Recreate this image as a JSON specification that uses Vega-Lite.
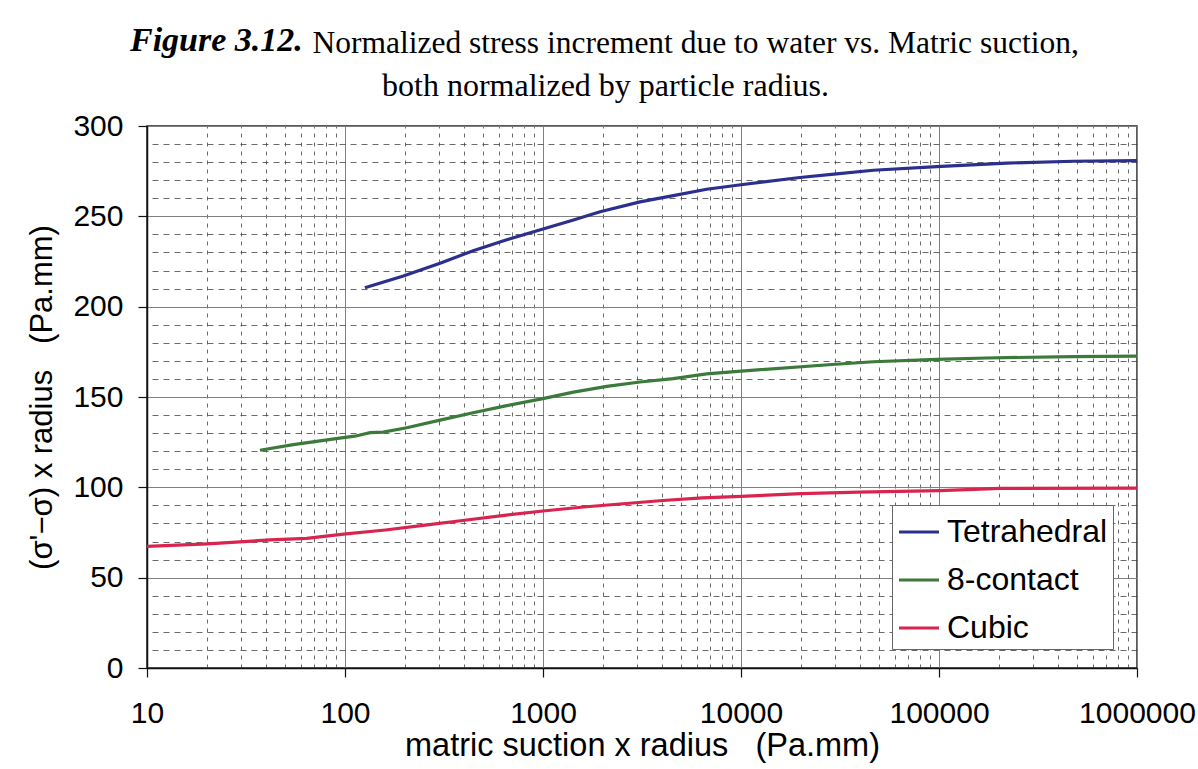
{
  "$schema": "https://vega.github.io/schema/vega-lite/v6.json",
  "width": 990,
  "height": 542,
  "autosize": {"type": "none"},
  "padding": {"left": 147, "top": 126, "right": 61, "bottom": 101},
  "background": "white",
  "config": {
    "view": {"stroke": "#222", "strokeWidth": 1.5},
    "axis": {"labelFont": "Liberation Sans", "titleFont": "Liberation Sans", "labelColor": "black", "titleColor": "black", "titleFontWeight": "normal"}
  },
  "title": {
    "text": "Figure 3.12.",
    "font": "Liberation Serif",
    "fontSize": 34,
    "fontStyle": "italic",
    "fontWeight": "bold",
    "color": "black",
    "anchor": "start",
    "frame": "group",
    "dx": -17,
    "dy": 31,
    "offset": 0
  },
  "data": {
    "values": [
      {"series": "Tetrahedral", "s": 126, "v": 210.5},
      {"series": "Tetrahedral", "s": 197, "v": 217},
      {"series": "Tetrahedral", "s": 302, "v": 224},
      {"series": "Tetrahedral", "s": 444, "v": 231},
      {"series": "Tetrahedral", "s": 656, "v": 237},
      {"series": "Tetrahedral", "s": 1000, "v": 243},
      {"series": "Tetrahedral", "s": 1425, "v": 248},
      {"series": "Tetrahedral", "s": 1943, "v": 252.5},
      {"series": "Tetrahedral", "s": 3090, "v": 258},
      {"series": "Tetrahedral", "s": 4550, "v": 261.5},
      {"series": "Tetrahedral", "s": 6710, "v": 265},
      {"series": "Tetrahedral", "s": 10000, "v": 267.5},
      {"series": "Tetrahedral", "s": 19860, "v": 271.5},
      {"series": "Tetrahedral", "s": 30400, "v": 273.5},
      {"series": "Tetrahedral", "s": 46600, "v": 275.5},
      {"series": "Tetrahedral", "s": 97300, "v": 277.5},
      {"series": "Tetrahedral", "s": 220000, "v": 279.5},
      {"series": "Tetrahedral", "s": 475000, "v": 280.5},
      {"series": "Tetrahedral", "s": 1000000, "v": 280.8},
      {"series": "8-contact", "s": 37.2, "v": 120.5},
      {"series": "8-contact", "s": 54.8, "v": 123.6},
      {"series": "8-contact", "s": 98, "v": 127.5},
      {"series": "8-contact", "s": 112, "v": 128.3},
      {"series": "8-contact", "s": 134, "v": 130.3},
      {"series": "8-contact", "s": 156, "v": 130.6},
      {"series": "8-contact", "s": 205, "v": 133},
      {"series": "8-contact", "s": 302, "v": 137.2},
      {"series": "8-contact", "s": 444, "v": 141.3},
      {"series": "8-contact", "s": 656, "v": 145.2},
      {"series": "8-contact", "s": 984, "v": 149},
      {"series": "8-contact", "s": 1425, "v": 152.7},
      {"series": "8-contact", "s": 2100, "v": 155.9},
      {"series": "8-contact", "s": 3090, "v": 158.3},
      {"series": "8-contact", "s": 4550, "v": 160.2},
      {"series": "8-contact", "s": 6710, "v": 162.8},
      {"series": "8-contact", "s": 10000, "v": 164.3},
      {"series": "8-contact", "s": 28800, "v": 168},
      {"series": "8-contact", "s": 46600, "v": 169.5},
      {"series": "8-contact", "s": 97300, "v": 170.8},
      {"series": "8-contact", "s": 174000, "v": 171.6},
      {"series": "8-contact", "s": 475000, "v": 172.4},
      {"series": "8-contact", "s": 1000000, "v": 172.6},
      {"series": "Cubic", "s": 10, "v": 67.3},
      {"series": "Cubic", "s": 20.2, "v": 68.7},
      {"series": "Cubic", "s": 42, "v": 70.9},
      {"series": "Cubic", "s": 64, "v": 71.8},
      {"series": "Cubic", "s": 101, "v": 74.2},
      {"series": "Cubic", "s": 160, "v": 76.4},
      {"series": "Cubic", "s": 254, "v": 79.1},
      {"series": "Cubic", "s": 402, "v": 81.8},
      {"series": "Cubic", "s": 638, "v": 84.5},
      {"series": "Cubic", "s": 1000, "v": 86.9},
      {"series": "Cubic", "s": 1600, "v": 89.1},
      {"series": "Cubic", "s": 2540, "v": 90.9},
      {"series": "Cubic", "s": 4030, "v": 92.7},
      {"series": "Cubic", "s": 6380, "v": 94.2},
      {"series": "Cubic", "s": 10000, "v": 95},
      {"series": "Cubic", "s": 20100, "v": 96.5},
      {"series": "Cubic", "s": 39300, "v": 97.4},
      {"series": "Cubic", "s": 101000, "v": 98.2},
      {"series": "Cubic", "s": 205000, "v": 99.4},
      {"series": "Cubic", "s": 1000000, "v": 99.6}
    ]
  },
  "resolve": {"axis": {"x": "independent", "y": "independent"}},
  "layer": [
    {
      "mark": {"type": "line", "strokeOpacity": 0},
      "encoding": {
        "x": {
          "field": "s", "type": "quantitative",
          "scale": {"type": "log", "domain": [10, 1000000]},
          "axis": {
            "orient": "top",
            "values": [20,30,40,50,60,70,80,90,200,300,400,500,600,700,800,900,2000,3000,4000,5000,6000,7000,8000,9000,20000,30000,40000,50000,60000,70000,80000,90000,200000,300000,400000,500000,600000,700000,800000,900000],
            "labels": false, "ticks": false, "domain": false,
            "grid": true, "gridColor": "#444", "gridWidth": 0.8, "gridDash": [4, 5],
            "title": "Normalized stress increment due to water vs. Matric suction,",
            "titleFont": "Liberation Serif", "titleFontSize": 31.5,
            "titleX": 165, "titleY": -74, "titleAlign": "left", "titleBaseline": "alphabetic", "titleAngle": 0
          }
        },
        "y": {
          "field": "v", "type": "quantitative",
          "scale": {"domain": [0, 300]},
          "axis": {
            "orient": "right",
            "values": [10,20,30,40,60,70,80,90,110,120,130,140,160,170,180,190,210,220,230,240,260,270,280,290],
            "labels": false, "ticks": false, "domain": false,
            "grid": true, "gridColor": "#444", "gridWidth": 0.8, "gridDash": [6, 5],
            "title": "both normalized by particle radius.",
            "titleFont": "Liberation Serif", "titleFontSize": 32,
            "titleX": -532, "titleY": -31, "titleAlign": "center", "titleBaseline": "alphabetic", "titleAngle": 0
          }
        },
        "detail": {"field": "series"}
      }
    },
    {
      "mark": {"type": "line", "strokeWidth": 3.2},
      "encoding": {
        "x": {
          "field": "s", "type": "quantitative",
          "scale": {"type": "log", "domain": [10, 1000000]},
          "axis": {
            "orient": "bottom",
            "values": [10, 100, 1000, 10000, 100000, 1000000],
            "format": "d",
            "labelFlush": false,
            "grid": true, "gridColor": "#808080", "gridWidth": 1,
            "domainColor": "#111", "domainWidth": 1.5,
            "tickColor": "#111", "tickSize": 9, "tickWidth": 1.2,
            "labelFontSize": 30, "labelPadding": 21,
            "title": "matric suction x radius\u00a0\u00a0\u00a0(Pa.mm)",
            "titleFontSize": 32.5, "titlePadding": 1
          }
        },
        "y": {
          "field": "v", "type": "quantitative",
          "scale": {"domain": [0, 300]},
          "axis": {
            "orient": "left",
            "values": [0, 50, 100, 150, 200, 250, 300],
            "grid": true, "gridColor": "#808080", "gridWidth": 1,
            "domainColor": "#111", "domainWidth": 1.5,
            "tickColor": "#111", "tickSize": 9, "tickWidth": 1.2,
            "labelFontSize": 30, "labelPadding": 15,
            "title": "(σ'−σ) x radius\u00a0\u00a0\u00a0(Pa.mm)",
            "titleFontSize": 31, "titlePadding": 14
          }
        },
        "color": {
          "field": "series", "type": "nominal",
          "scale": {"domain": ["Tetrahedral", "8-contact", "Cubic"], "range": ["#2b2f8e", "#3b7a3a", "#d8244e"]},
          "legend": {
            "title": null,
            "orient": "none", "legendX": 745, "legendY": 379,
            "fillColor": "white", "strokeColor": "#666",
            "padding": 5,
            "symbolType": "stroke", "symbolSize": 1600, "symbolStrokeWidth": 3.2,
            "labelFont": "Liberation Sans", "labelFontSize": 32, "labelColor": "black",
            "labelLimit": 400,
            "labelOffset": 6, "rowPadding": 10
          }
        }
      }
    }
  ]
}
